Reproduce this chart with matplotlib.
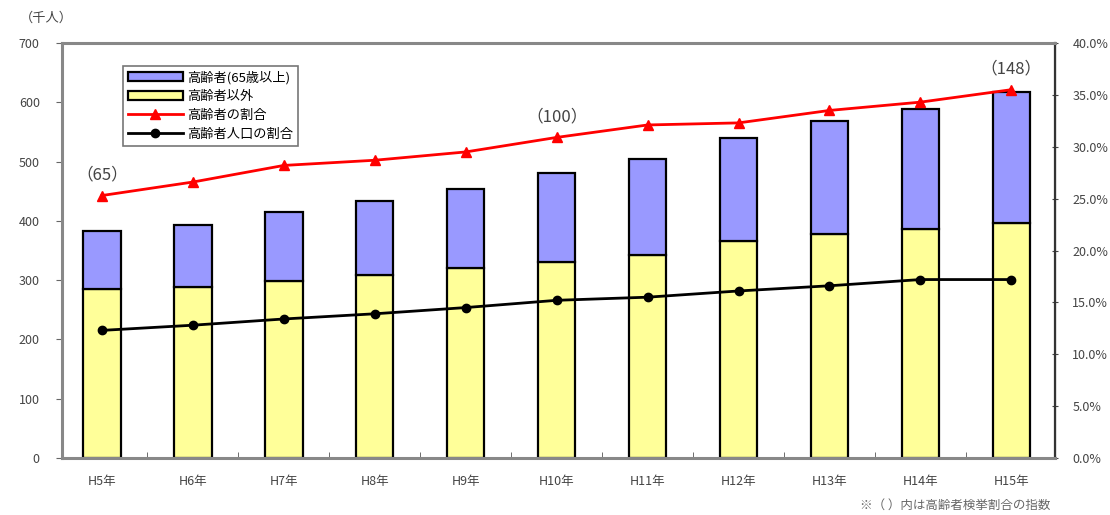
import matplotlib
matplotlib.use("Agg")
import matplotlib.pyplot as plt
from matplotlib.ticker import FuncFormatter, FixedLocator

plt.rcParams['font.family'] = ['Noto Sans CJK JP', 'DejaVu Sans']

# 年度
years = ["H5年", "H6年", "H7年", "H8年", "H9年", "H10年",
         "H11年", "H12年", "H13年", "H14年", "H15年"]
# 高齢者以外 / 総数（千人）
others = [285, 289, 299, 309, 320, 331, 342, 366, 378, 386, 396]
total = [383, 393, 415, 433, 453, 480, 504, 540, 568, 589, 617]
elderly = [t - o for t, o in zip(total, others)]
# 割合（%）
elderly_share = [25.3, 26.6, 28.2, 28.7, 29.5, 30.9, 32.1, 32.3, 33.5, 34.3, 35.5]
elderly_pop_share = [12.3, 12.8, 13.4, 13.9, 14.5, 15.2, 15.5, 16.1, 16.6, 17.2, 17.2]
# 指数
index_labels = {0: "（65）", 5: "（100）", 10: "（148）"}

x = list(range(len(years)))

fig = plt.figure(figsize=(11.1, 5.15), dpi=100)
ax = fig.add_axes([62 / 1110, 1 - 458 / 515, 993 / 1110, 415 / 515])

b1 = ax.bar(x, others, width=0.41, color="#ffff99", edgecolor="black", linewidth=1.6,
            label="高齢者以外", zorder=2)
b2 = ax.bar(x, elderly, width=0.41, bottom=others, color="#9999ff", edgecolor="black",
            linewidth=1.6, label="高齢者(65歳以上)", zorder=2)

ax.set_xlim(-0.44, 10.48)
ax.set_ylim(0, 700)
ax.set_yticks(range(0, 701, 100))
ax.set_xticks(x)
ax.set_xticklabels(years)
ax.xaxis.set_minor_locator(FixedLocator([i + 0.5 for i in range(10)]))
ax.tick_params(axis="x", which="major", length=0, pad=12, labelsize=9, labelcolor="#444")
ax.tick_params(axis="x", which="minor", length=4, direction="in", color="#555")
ax.tick_params(axis="y", length=4, direction="out", labelsize=9, labelcolor="#444",
               color="#666", pad=12)

ax2 = ax.twinx()
l1, = ax2.plot(x, elderly_share, color="red", marker="^", markersize=7, linewidth=2,
               label="高齢者の割合", zorder=3)
l2, = ax2.plot(x, elderly_pop_share, color="black", marker="o", markersize=6, linewidth=2,
               label="高齢者人口の割合", zorder=3)
ax2.set_ylim(0, 40)
ax2.set_yticks(range(0, 41, 5))
ax2.yaxis.set_major_formatter(FuncFormatter(lambda v, p: f"{v:.1f}%"))
ax2.tick_params(axis="y", length=5, direction="inout", labelsize=9, labelcolor="#444",
                color="#444", pad=10)

for spine in ["top", "left", "bottom"]:
    ax2.spines[spine].set_color("#888")
    ax2.spines[spine].set_linewidth(2.2)
ax2.spines["right"].set_color("#333")
ax2.spines["right"].set_linewidth(1.6)

for i, txt in index_labels.items():
    ax2.annotate(txt, (x[i], elderly_share[i]), xytext=(0, 9), textcoords="offset points",
                 ha="center", va="bottom", fontsize=12, color="#444")

leg = ax2.legend(handles=[b2, b1, l1, l2], loc="upper left",
                 bbox_to_anchor=(61 / 993, 1 - 23 / 415), fontsize=9.5,
                 frameon=True, fancybox=False, edgecolor="#555", borderpad=0.35,
                 labelspacing=0.45, handlelength=4.2, handletextpad=0.3,
                 borderaxespad=0)
leg.get_frame().set_linewidth(1.2)
leg._legend_box.align = "left"

fig.text(20 / 1110, 1 - 18 / 515, "（千人）", fontsize=9.5, color="#444",
         ha="left", va="center")
fig.text(1050 / 1110, 1 - 505 / 515, "※（ ）内は高齢者検挙割合の指数", fontsize=9,
         color="#666", ha="right", va="center")

fig.savefig("out.png", dpi=100)
